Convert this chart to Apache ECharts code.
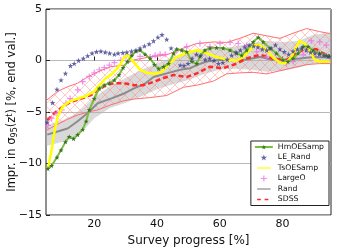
<!DOCTYPE html>
<html><head><meta charset="utf-8">
<script src="https://cdn.jsdelivr.net/npm/echarts@6/dist/echarts.min.js"></script>
<style>html,body{margin:0;padding:0;background:#fff}#c{width:343px;height:248px}</style>
</head><body><div id="c"></div>
<script>
var xTicks = [20, 40, 60, 80];
var yTicks = [-15, -10, -5, 0, 5];
var legendNames = ['HmOESamp', 'LE_Rand', 'TsOESamp', 'LargeO', 'Rand', 'SDSS'];

var hmOESamp = [[5.2,-10.5],[6.4,-10.2],[8.1,-9.4],[9.4,-8.7],[10.8,-7.9],[12.0,-7.4],[13.4,-7.6],[14.7,-7.2],[16.3,-6.7],[17.4,-5.9],[18.4,-4.8],[20.0,-3.7],[21.6,-2.7],[23.2,-2.4],[24.8,-2.2],[26.4,-1.9],[27.9,-1.4],[29.2,-0.7],[30.6,-0.1],[32.0,0.5],[33.3,0.9],[34.6,1.0],[36.2,0.6],[37.8,0.2],[39.2,-0.4],[40.5,-0.8],[42.1,-0.6],[43.7,-0.3],[45.3,0.7],[46.3,1.1],[47.9,1.0],[49.5,0.85],[51.1,-0.1],[52.7,-0.3],[53.7,0.4],[55.3,1.0],[56.9,1.2],[59.0,1.25],[61.1,1.2],[63.3,1.0],[65.4,0.7],[67.0,0.5],[68.6,1.0],[70.7,1.8],[72.3,2.25],[73.9,1.8],[76.0,1.2],[78.1,0.7],[80.2,0.05],[81.8,-0.1],[83.4,0.2],[85.0,0.7],[86.6,1.35],[88.2,1.35],[89.8,1.0],[91.9,0.7],[94.0,0.5],[95.0,0.4]];

var leRand = [[5.0,-6.0],[6.7,-4.1],[8.1,-2.8],[9.4,-1.9],[10.8,-1.25],[12.4,-0.5],[13.6,-0.3],[15.0,0.0],[16.5,0.2],[17.9,0.45],[19.3,0.7],[20.7,0.85],[22.1,0.9],[23.5,0.8],[24.9,0.7],[26.4,0.6],[27.6,0.7],[29.1,0.75],[30.4,0.8],[31.9,0.9],[33.3,1.0],[34.6,1.2],[36.0,1.4],[37.5,1.6],[38.9,1.9],[40.3,2.25],[41.6,2.5],[43.1,2.05],[44.5,1.2],[47.4,-0.45],[48.6,-0.5],[49.9,-0.3],[51.2,0.2],[52.6,0.6],[54.0,0.5],[55.4,0.1],[56.8,0.2],[58.2,0.0],[59.6,-0.3],[61.0,-0.2],[62.4,0.1],[63.8,0.5],[65.2,0.8],[66.6,1.0],[68.0,1.3],[69.4,1.5],[70.8,1.4],[72.2,1.3],[73.6,1.1],[75.0,1.0],[76.4,1.2],[77.8,1.5],[79.2,1.1],[80.6,0.85],[82.0,0.6],[83.4,0.9],[84.8,1.1],[86.2,1.2],[87.6,1.0],[89.0,0.8],[90.4,0.7],[91.8,0.6],[93.2,0.5],[94.6,0.4]];

var tsOESamp = [[5.2,-10.5],[6.4,-8.7],[7.3,-6.9],[8.3,-5.45],[9.9,-4.5],[12.0,-4.0],[14.7,-3.7],[17.4,-3.45],[20.0,-3.0],[21.6,-2.4],[23.7,-1.7],[25.3,-1.4],[26.9,-0.9],[28.5,-0.3],[29.5,0.3],[30.6,0.55],[33.0,-0.3],[34.6,-0.9],[36.8,-1.2],[39.4,-1.3],[41.5,-1.1],[43.6,-0.45],[46.3,0.35],[49.5,0.75],[52.7,1.0],[55.8,0.7],[59.0,0.35],[62.2,0.1],[65.4,0.0],[67.5,0.35],[69.6,1.0],[71.2,1.5],[72.8,1.5],[74.9,1.0],[77.0,0.3],[79.2,-0.2],[80.8,-0.3],[82.9,0.35],[84.5,1.35],[85.5,1.9],[87.1,1.65],[88.7,1.0],[90.3,0.05],[91.9,-0.1],[95.0,-0.1]];

var largeO = [[5.2,-6.3],[6.4,-5.6],[8.1,-5.1],[9.6,-4.8],[11.0,-4.15],[12.3,-3.7],[14.7,-2.85],[16.3,-2.05],[18.4,-1.55],[20.0,-1.2],[21.6,-0.9],[23.2,-0.7],[24.8,-0.45],[26.4,-0.2],[28.5,0.05],[30.1,0.4],[31.7,0.5],[34.6,0.4],[37.8,0.35],[39.4,0.5],[41.0,0.6],[42.6,0.6],[46.3,1.0],[49.5,1.35],[53.7,1.65],[56.9,1.35],[60.1,1.65],[63.3,1.75],[65.9,1.65],[68.6,1.45],[71.8,0.85],[74.9,0.35],[78.1,0.05],[81.3,-0.3],[83.4,-0.1],[86.6,0.55],[89.2,1.9],[91.9,1.8],[94.0,1.5]];

var rand = [[5.0,-7.2],[8.3,-6.9],[11.5,-6.6],[14.7,-5.9],[17.9,-5.1],[21.1,-4.15],[25.3,-3.7],[29.5,-3.2],[32.7,-2.7],[35.9,-2.3],[38.9,-1.6],[43.1,-1.25],[47.4,-0.9],[50.5,-0.75],[52.7,-0.45],[55.8,-0.1],[60.1,0.05],[64.3,0.05],[68.6,0.1],[72.8,0.35],[77.0,0.05],[81.3,0.1],[85.5,0.2],[89.8,0.35],[95.0,0.3]];

var sdss = [[5.0,-5.8],[7.3,-5.1],[9.9,-4.5],[12.6,-4.0],[15.8,-3.7],[19.0,-3.35],[21.1,-2.9],[23.7,-2.4],[26.4,-2.2],[29.5,-2.2],[32.7,-2.4],[35.5,-2.4],[37.8,-2.2],[42.1,-1.7],[45.3,-1.4],[49.5,-1.6],[52.7,-1.25],[56.9,-0.6],[61.1,-0.75],[65.4,-0.3],[68.6,0.2],[72.8,0.55],[77.0,0.2],[81.3,0.05],[84.5,0.7],[87.7,1.2],[90.8,1.1],[92.9,0.7],[95.0,0.5]];

var randBandX =  [4.6, 10, 15, 20, 25, 30, 35, 40, 45, 50, 55, 60, 65, 70, 75, 80, 85, 90, 95.5];
var randBandHi = [-6.3,-5.8,-5.0,-3.6,-2.5,-1.7,-0.9,-0.3,0.3,0.8,1.1,1.2,1.35,1.7,1.9,1.8,1.9,2.5,2.7];
var randBandLo = [-8.3,-7.9,-7.3,-5.6,-4.6,-4.1,-3.5,-2.8,-2.3,-1.9,-1.3,-0.9,-0.8,-0.9,-1.1,-1.0,-0.7,-0.3,-0.3];

var sdssBandX =  [4.6, 8.3, 11.5, 14.7, 17.9, 21.1, 25.3, 29.5, 32.5, 37.8, 43.1, 48.4, 52.7, 58.0, 62.2, 66.4, 70.7, 74.9, 79.2, 83.4, 87.7, 91.9, 95.5];
var sdssBandHi = [-3.9,-3.0,-2.55,-2.2,-1.6,-1.1,-0.6,-0.45,0.05,0.35,0.55,1.2,1.65,1.8,1.75,2.15,2.65,2.4,2.15,2.65,3.1,2.8,2.6];
var sdssBandLo = [-6.8,-6.2,-5.7,-5.3,-5.0,-4.8,-4.3,-3.9,-3.75,-3.6,-3.4,-2.6,-2.4,-2.0,-1.3,-1.2,-1.15,-1.3,-1.0,-0.7,-0.4,-0.3,-0.3];

function zip(xs, ys) { return xs.map(function (x, i) { return [x, ys[i]]; }); }

var hatch = document.createElement('canvas');
hatch.width = 10; hatch.height = 10;
(function () {
  var g = hatch.getContext('2d');
  g.strokeStyle = 'rgba(255,120,120,0.5)';
  g.lineWidth = 0.8;
  g.beginPath();
  g.moveTo(0, 0); g.lineTo(10, 10);
  g.moveTo(10, 0); g.lineTo(0, 10);
  g.stroke();
})();

function bandSeries(xs, hi, lo, fill, z) {
  return {
    type: 'custom', silent: true, z: z,
    data: [0],
    renderItem: function (params, api) {
      var pts = [];
      for (var i = 0; i < xs.length; i++) pts.push(api.coord([xs[i], hi[i]]));
      for (var j = xs.length - 1; j >= 0; j--) pts.push(api.coord([xs[j], lo[j]]));
      return {
        type: 'polygon',
        shape: { points: pts },
        style: { fill: fill, stroke: 'none' },
        clipPath: { type: 'rect', shape: { x: params.coordSys.x, y: params.coordSys.y, width: params.coordSys.width, height: params.coordSys.height } }
      };
    }
  };
}

var star = 'path://M5,0 L6.2,3.6 L10,3.6 L7,5.9 L8.1,9.5 L5,7.3 L1.9,9.5 L3,5.9 L0,3.6 L3.8,3.6 Z';
var plus = 'path://M4,0 L6,0 L6,4 L10,4 L10,6 L6,6 L6,10 L4,10 L4,6 L0,6 L0,4 L4,4 Z';
var lineIcon = 'path://M0,0 M18,8 M0,3.2 L18,3.2 L18,4.8 L0,4.8 Z';
var dashIcon = 'path://M0,0 M18,8 M0,3.1 L5,3.1 L5,4.9 L0,4.9 Z M10,3.1 L15,3.1 L15,4.9 L10,4.9 Z';
var font = 'DejaVu Sans';

var chart = echarts.init(document.getElementById('c'), null, { renderer: 'canvas' });
chart.setOption({
  animation: false,
  backgroundColor: '#fff',
  textStyle: { fontFamily: font },
  grid: { left: 46, right: 12, top: 9, bottom: 33, containLabel: false, outerBoundsMode: 'none',
          show: true, borderColor: '#222', borderWidth: 1, backgroundColor: 'transparent' },
  graphic: [{
    type: 'text', x: 12, y: 112, rotation: Math.PI / 2, z: 10,
    style: {
      text: 'Impr. in {s|σ}{sub|95}{s|(z}{sup|t}{s|) [%, end val.]}',
      align: 'center', verticalAlign: 'middle',
      fontSize: 11.5, fill: '#111', fontFamily: font,
      rich: {
        s: { fontSize: 11.5, fill: '#111', fontFamily: font },
        sub: { fontSize: 8, fill: '#111', fontFamily: font, padding: [5, 0, 0, 0] },
        sup: { fontSize: 8, fill: '#111', fontFamily: font, padding: [0, 0, 5, 0] }
      }
    }
  }],
  xAxis: {
    type: 'value', min: 4.6, max: 95.5,
    name: 'Survey progress [%]', nameLocation: 'middle', nameGap: 19,
    nameTextStyle: { fontSize: 12, color: '#111', fontFamily: font },
    axisLine: { show: false },
    axisTick: { show: true, inside: true, length: 4, customValues: xTicks, lineStyle: { color: '#222' } },
    axisLabel: { customValues: xTicks, fontSize: 11, color: '#111', margin: 4, fontFamily: font },
    splitLine: { show: false }
  },
  yAxis: {
    type: 'value', min: -15, max: 5, interval: 5,
    axisLine: { show: false },
    axisTick: { show: true, inside: true, length: 4, lineStyle: { color: '#222' } },
    axisLabel: { fontSize: 11, color: '#111', margin: 4, fontFamily: font, formatter: function (v) { return String(v).replace('-', '\u2212'); } },
    splitLine: { show: true, lineStyle: { color: '#b8b8b8', width: 1 } }
  },
  legend: {
    data: [
      { name: 'HmOESamp' },
      { name: 'LE_Rand' },
      { name: 'TsOESamp', icon: lineIcon },
      { name: 'LargeO' },
      { name: 'Rand', icon: lineIcon },
      { name: 'SDSS', icon: dashIcon }
    ],
    orient: 'vertical', right: 14, top: 141,
    backgroundColor: '#fff', borderColor: '#222', borderWidth: 1, borderRadius: 0,
    padding: [2, 5, 2, 3], itemGap: 2.5, itemWidth: 18, itemHeight: 6,
    textStyle: { fontSize: 7.7, color: '#111', fontFamily: font, padding: [0, 0, 0, 0] }
  },
  series: [
    bandSeries(randBandX, randBandHi, randBandLo, 'rgba(180,180,180,0.5)', 1),
    bandSeries(sdssBandX, sdssBandHi, sdssBandLo, { image: hatch, repeat: 'repeat' }, 2),
    { type: 'line', name: 'sdssHi', data: zip(sdssBandX, sdssBandHi), symbol: 'none', silent: true, z: 3,
      lineStyle: { color: '#ff7070', width: 1 } },
    { type: 'line', name: 'sdssLo', data: zip(sdssBandX, sdssBandLo), symbol: 'none', silent: true, z: 3,
      lineStyle: { color: '#ff7070', width: 1 } },
    { type: 'line', name: 'Rand', data: rand, symbol: 'none', z: 4, color: '#8c8c8c',
      lineStyle: { color: '#8c8c8c', width: 2 } },
    { type: 'line', name: 'SDSS', data: sdss, symbol: 'none', z: 5, color: '#ff2a2a',
      lineStyle: { color: '#ff2a2a', width: 2.5, type: [5, 3] } },
    { type: 'scatter', name: 'LargeO', data: largeO, symbol: plus, symbolSize: 6, z: 6,
      itemStyle: { color: '#ee70ee' } },
    { type: 'line', name: 'TsOESamp', data: tsOESamp, symbol: 'none', z: 7, color: '#ffff00',
      lineStyle: { color: '#ffff00', width: 2.5 } },
    { type: 'line', name: 'HmOESamp', data: hmOESamp, symbol: star, symbolSize: 5, showSymbol: true, z: 8,
      color: '#78c03a',
      lineStyle: { color: '#78c03a', width: 2 },
      itemStyle: { color: '#3f6f2a', borderWidth: 0 } },
    { type: 'scatter', name: 'LE_Rand', data: leRand, symbol: star, symbolSize: 5.5, z: 9,
      itemStyle: { color: '#3c3c8f' } }
  ]
});
</script></body></html>
